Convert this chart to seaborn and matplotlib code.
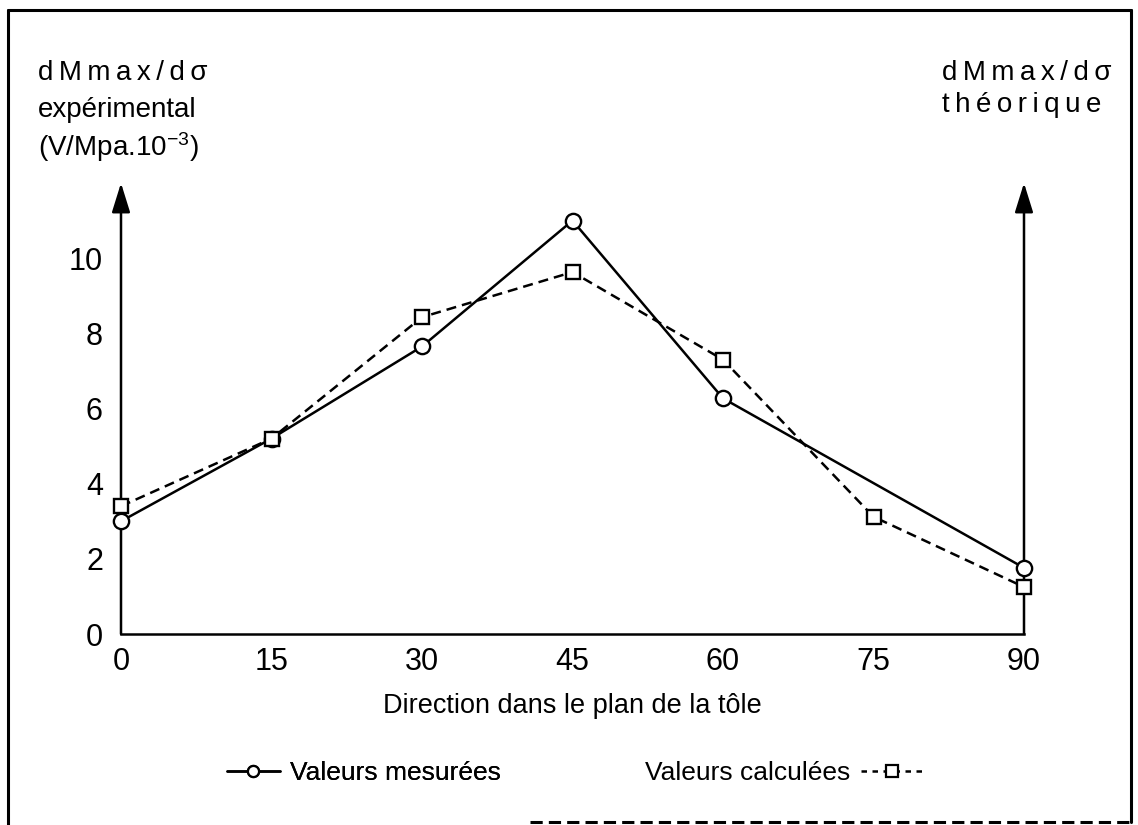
import numpy as np
import seaborn as sns
import matplotlib.pyplot as plt
from matplotlib.lines import Line2D

# angle dans le plan de la tôle (degrés)
angles_mes = [0, 15, 30, 45, 60, 90]
val_mesurees = [3.0, 5.2, 7.65, 11.0, 6.27, 1.76]
angles_calc = [0, 15, 30, 45, 60, 75, 90]
val_calculees = [3.4, 5.2, 8.43, 9.63, 7.3, 3.12, 1.25]
x_ticks = [0, 15, 30, 45, 60, 75, 90]
y_ticks = [0, 2, 4, 6, 8, 10]

sns.set_theme(style='white')
plt.rcParams['font.family'] = ['Liberation Sans', 'DejaVu Sans']
plt.rcParams['mathtext.default'] = 'regular'
plt.rcParams['text.color'] = 'black'
plt.rcParams['axes.labelcolor'] = 'black'

W, H = 1138, 825
fig = plt.figure(figsize=(W / 100, H / 100), dpi=100)
ax = fig.add_axes([121 / W, 1 - 634 / H, 903 / W, (634 - 183) / H])

lw = 1.8
sns.lineplot(x=angles_mes, y=val_mesurees, ax=ax, color='black', lw=lw,
             marker='o', markersize=11, markerfacecolor='white',
             markeredgecolor='black', markeredgewidth=1.7, clip_on=False, zorder=4)
sns.lineplot(x=angles_calc, y=val_calculees, ax=ax, color='black', lw=lw,
             linestyle=(0, (4, 2.4)),
             marker='s', markersize=10.5, markerfacecolor='white',
             markeredgecolor='black', markeredgewidth=1.7, clip_on=False, zorder=4)

ax.set_xlim(0, 90)
ax.set_ylim(0, 12)
ax.set_xticks(x_ticks)
ax.set_yticks(y_ticks)
ax.tick_params(axis='y', direction='in', length=16.5, width=lw, pad=13,
               labelsize=22, colors='black')
ax.tick_params(axis='x', direction='in', length=14.5, width=lw, pad=9,
               labelsize=22, colors='black')
for s in ['top', 'right', 'left']:
    ax.spines[s].set_visible(False)
ax.spines['bottom'].set_linewidth(lw)
ax.spines['bottom'].set_color('black')
ax.set_facecolor('none')

# axes verticaux avec flèches
for xpos in [0, 90]:
    ax.annotate('', xy=(xpos, 12), xytext=(xpos, 0), annotation_clip=False,
                arrowprops=dict(arrowstyle='-|>,head_length=0.9,head_width=0.28',
                                lw=lw, color='black', mutation_scale=20,
                                shrinkA=0, shrinkB=0))

ax.set_xlabel('Direction dans le plan de la tôle', fontsize=19.5, color='black',
              labelpad=12)
ax.set_ylabel('')

# titres des axes
ts = '\u2009'
fig.text(38 / W, 1 - 73 / H, ts.join('dMmax/dσ'), fontsize=20, va='center', ha='left')
fig.text(38 / W, 1 - 110 / H, 'expérimental', fontsize=20, va='center', ha='left')
fig.text(38 / W, 1 - 147 / H, r'(V/Mpa.10$^{-3}$)', fontsize=20, va='center', ha='left')
fig.text(942 / W, 1 - 73 / H, ts.join('dMmax/dσ'), fontsize=20, va='center', ha='left')
fig.text(942 / W, 1 - 105 / H, ts.join('théorique'), fontsize=20, va='center', ha='left')

# légendes
h_mes = Line2D([], [], color='black', lw=lw, marker='o', markersize=8,
               markerfacecolor='white', markeredgecolor='black', markeredgewidth=1.6)
h_calc = Line2D([], [], color='black', lw=lw, linestyle=(0, (2.2, 2.2)), marker='s',
                markersize=8, markerfacecolor='white', markeredgecolor='black',
                markeredgewidth=1.6)
leg1 = fig.legend([h_mes], ['Valeurs mesurées'], loc='center left',
                  bbox_to_anchor=(227 / W, 1 - 773 / H), frameon=False, fontsize=19,
                  handlelength=2.0, handletextpad=0.4, borderpad=0, borderaxespad=0)
fig.add_artist(leg1)
fig.legend([h_calc], ['Valeurs calculées'], loc='center left', markerfirst=False,
           bbox_to_anchor=(645 / W, 1 - 773 / H), frameon=False, fontsize=19,
           handlelength=2.4, handletextpad=0.4, borderpad=0, borderaxespad=0)

# cadre
fl = 2.2
fig.add_artist(Line2D([8 / W, 8 / W], [0, 1 - 10 / H], color='black', lw=fl))
fig.add_artist(Line2D([8 / W, 1131 / W], [1 - 10 / H, 1 - 10 / H], color='black', lw=fl))
fig.add_artist(Line2D([1131 / W, 1131 / W], [1 - 10 / H, 1 - 822 / H], color='black', lw=fl))
fig.add_artist(Line2D([530 / W, 1131 / W], [1 - 822 / H, 1 - 822 / H], color='black',
                      lw=fl, linestyle=(0, (4, 2))))

fig.savefig('out.png', dpi=100, facecolor='white')
